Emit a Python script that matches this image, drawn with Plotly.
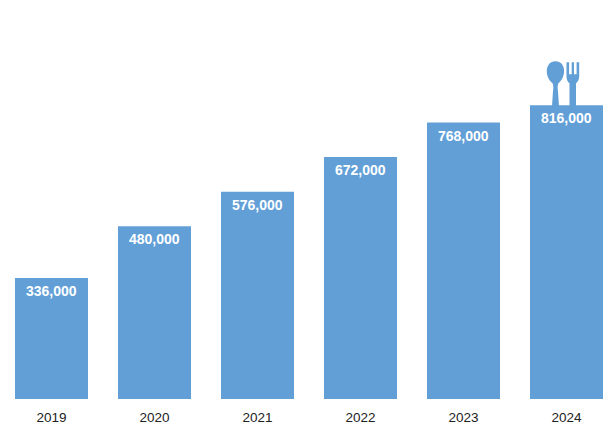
import plotly.graph_objects as go

years = ["2019", "2020", "2021", "2022", "2023", "2024"]
values = [336000, 480000, 576000, 672000, 768000, 816000]
value_labels = ["336,000", "480,000", "576,000", "672,000", "768,000", "816,000"]

BAR = "#629fd7"

# Icon outlines in pixels relative to the top centre of the last bar (y upward)
spoon = ("M -14 22 C -22 28 -22 44 -11 44 C 0 44 0 28 -8 22 "
         "C -9 20 -9 18 -8.5 14 L -7.5 -1 L -14.5 -1 L -13.5 14 C -13 18 -13 20 -14 22 Z")
fork = ("M 0 43 L 2.6 43 L 2.6 31 L 5.2 31 L 5.2 43 L 7.5 43 L 7.5 31 L 10.1 31 L 10.1 43 "
        "L 12.7 43 L 12.7 30 C 12.7 25 11 23 9.5 22 L 9.5 -1 L 3 -1 L 3 22 "
        "C 1.5 23 0 25 0 30 Z")

fig = go.Figure(go.Bar(
    x=list(range(len(years))),
    y=values,
    width=0.709,
    marker=dict(color=BAR, line=dict(width=0)),
    hoverinfo="skip",
))

for i, label in enumerate(value_labels):
    fig.add_annotation(
        x=i, y=values[i], text=label, showarrow=False,
        xanchor="center", yanchor="middle", yshift=-13,
        font=dict(family="Liberation Sans", size=14, color="white", weight="bold"),
    )

for path in (spoon, fork):
    fig.add_shape(
        type="path", path=path,
        xref="x", yref="y",
        xsizemode="pixel", ysizemode="pixel",
        xanchor=len(years) - 1, yanchor=values[-1],
        fillcolor=BAR, line=dict(width=0),
    )

fig.update_layout(
    width=600, height=423,
    margin=dict(l=0, r=0, t=0, b=32),
    paper_bgcolor="white", plot_bgcolor="white",
    showlegend=False,
    font=dict(family="Liberation Sans", size=13.5, color="#222222"),
)
fig.update_xaxes(
    range=[-0.4223, 5.403],
    tickmode="array", tickvals=list(range(len(years))), ticktext=years,
    showgrid=False, zeroline=False, showline=False, ticks="", ticklen=0,
    ticklabelstandoff=8,
)
fig.update_yaxes(range=[0, 1086111], visible=False)

fig.write_html("out.html", config=dict(displayModeBar=False))
